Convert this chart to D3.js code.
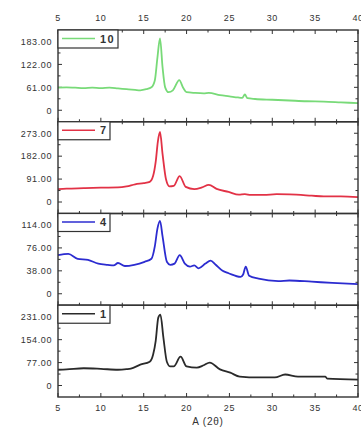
<!DOCTYPE html>
<html>
<head>
<meta charset="utf-8">
<script src="https://cdn.jsdelivr.net/npm/d3@7"></script>
<style>
  body { margin: 0; background: #fff; }
  svg { display: block; }
  text { font-family: "Liberation Sans", Arial, sans-serif; fill: #333; }
</style>
</head>
<body>
<div class="chart"></div>
<script>
// ---- data ----
var sampleNames = ["10", "7", "4", "1"];
var sampleColors = ["#78da78", "#e23246", "#2c2cd0", "#2a2a2a"];
var tickMax = [183, 273, 114, 231];
var xTicks = [5, 10, 15, 20, 25, 30, 35, 40];

var x10 = [5, 6, 7, 8, 9, 10, 11, 12, 13, 14, 14.6, 15.3, 15.9, 16.3, 16.6, 16.9, 17.2, 17.5, 17.9, 18.4, 19.15, 19.6, 20.0, 21.0, 22.0, 22.6, 23.9, 25.0, 26.0, 26.5, 26.8, 27.1, 28, 30, 32, 34, 36, 38, 40];
var y10 = [60, 61, 60, 59, 60, 59, 60, 58, 56, 54, 53, 56, 61, 80, 140, 191, 114, 61, 48, 53, 80, 60, 48, 46, 45, 46, 40, 37, 34, 33, 42, 32, 30, 28, 26, 24, 23, 21, 19];

var x7 = [5, 6, 8, 10, 12, 13, 14, 15, 15.7, 16.1, 16.4, 16.65, 16.9, 17.2, 17.6, 18.0, 18.5, 19.2, 19.9, 20.9, 21.8, 22.6, 23.5, 24.9, 26.1, 26.8, 27.5, 29, 30.5, 32, 34.6, 36, 38, 40];
var y7 = [51, 53, 55, 57, 58, 62, 70, 75, 80, 104, 160, 240, 278, 190, 90, 62, 64, 103, 60, 51, 58, 68, 52, 40, 29, 31, 28, 28, 31, 30, 25, 22, 22, 19];

var x4 = [5, 6.2, 7.3, 8.5, 9.7, 10.8, 11.5, 12.0, 12.8, 13.9, 15.1, 15.9, 16.3, 16.6, 16.9, 17.2, 17.7, 18.1, 18.6, 19.2, 19.8, 20.4, 20.9, 21.4, 22.2, 22.8, 23.4, 24.2, 24.9, 26.3, 26.6, 26.9, 27.3, 28.4, 30.7, 32, 34.6, 37, 40];
var y4 = [64, 66, 58, 56, 50, 48, 47, 51, 46, 48, 53, 58, 79, 108, 121, 95, 53, 48, 50, 64, 50, 45, 47, 42, 50, 55, 48, 38, 34, 28, 32, 45, 30, 25, 21, 22, 20, 18, 16];

var x1 = [5, 6, 8, 10, 12, 13, 13.5, 14.6, 15.7, 16.1, 16.4, 16.7, 16.95, 17.3, 17.7, 18.1, 18.5, 19.3, 20.0, 21.2, 22.0, 22.7, 23.9, 25.1, 26.2, 28.4, 30.3, 31.5, 33, 36.2, 36.4, 40];
var y1 = [53, 54, 58, 56, 53, 55, 57, 70, 80, 104, 150, 228, 238, 160, 80, 64, 64, 97, 64, 60, 68, 77, 54, 43, 30, 27, 27, 37, 30, 30, 23, 20];

var sampleX = [x10, x7, x4, x1];
var sampleY = [y10, y7, y4, y1];

// ---- layout ----
var width = 361, height = 430;
var left = 58, right = 358;
var top0 = 30, panelH = 91.75;
var pad = 11.5;

var svg = d3.select(".chart").append("svg")
    .attr("width", width)
    .attr("height", height);

var x = d3.scaleLinear().domain([5, 40]).range([left, right]);
var minorX = d3.range(5, 40.01, 2.5);

sampleNames.forEach(function(name, i) {
    var top = top0 + i * panelH;
    var bottom = top + panelH;
    var y = d3.scaleLinear().domain([0, tickMax[i]]).range([bottom - pad, top + pad]);
    var g = svg.append("g");

    // y ticks + minor
    var step = tickMax[i] / 3;
    var majors = [0, step, 2 * step, 3 * step];
    var minors = d3.range(0, tickMax[i] + 0.1, step / 2);

    minors.forEach(function(v) {
        var isMajor = Math.abs((v / step) - Math.round(v / step)) < 0.01;
        var len = isMajor ? 4 : 2.5;
        g.append("line").attr("x1", left).attr("x2", left + len)
            .attr("y1", y(v)).attr("y2", y(v))
            .attr("stroke", "#333").attr("stroke-width", 1);
        g.append("line").attr("x1", right).attr("x2", right - len)
            .attr("y1", y(v)).attr("y2", y(v))
            .attr("stroke", "#333").attr("stroke-width", 1);
    });

    majors.forEach(function(v, k) {
        g.append("text")
            .attr("x", 52).attr("y", y(v) + 3.3)
            .attr("text-anchor", "end")
            .attr("font-size", "9px")
            .attr("letter-spacing", "0.6px")
            .text(k === 0 ? "0" : Math.round(v) + ".00");
    });

    // x ticks top and bottom of each panel
    minorX.forEach(function(v) {
        var isMajor = v % 5 === 0;
        var len = isMajor ? 4 : 2.5;
        g.append("line").attr("x1", x(v)).attr("x2", x(v))
            .attr("y1", top).attr("y2", top + len)
            .attr("stroke", "#333").attr("stroke-width", 1);
        g.append("line").attr("x1", x(v)).attr("x2", x(v))
            .attr("y1", bottom).attr("y2", bottom - len)
            .attr("stroke", "#333").attr("stroke-width", 1);
    });

    // data line
    var pts = sampleX[i].map(function(d, k) { return [d, sampleY[i][k]]; });
    var line = d3.line()
        .x(function(d) { return x(d[0]); })
        .y(function(d) { return y(d[1]); })
        .curve(d3.curveMonotoneX);
    g.append("path")
        .attr("d", line(pts))
        .attr("fill", "none")
        .attr("stroke", sampleColors[i])
        .attr("stroke-width", 1.8)
        .attr("stroke-linejoin", "round");

    // frame
    g.append("rect")
        .attr("x", left).attr("y", top)
        .attr("width", right - left).attr("height", panelH)
        .attr("fill", "none")
        .attr("stroke", "#333")
        .attr("stroke-width", 1.4);

    // legend
    var lw = name.length > 1 ? 60 : 52;
    g.append("rect")
        .attr("x", left).attr("y", top)
        .attr("width", lw).attr("height", 18)
        .attr("fill", "#fff")
        .attr("stroke", "#333")
        .attr("stroke-width", 1.2);
    g.append("line")
        .attr("x1", left + 4).attr("x2", left + 37)
        .attr("y1", top + 8.5).attr("y2", top + 8.5)
        .attr("stroke", sampleColors[i]).attr("stroke-width", 1.4);
    g.append("text")
        .attr("x", left + 42).attr("y", top + 12.5)
        .attr("font-size", "11px")
        .attr("font-weight", "bold")
        .attr("letter-spacing", "1.5px")
        .text(name);
});

// top and bottom tick labels
var bottomY = top0 + 4 * panelH;
xTicks.forEach(function(v) {
    svg.append("text").attr("x", x(v)).attr("y", 21)
        .attr("text-anchor", "middle").attr("font-size", "9px")
        .attr("letter-spacing", "0.6px")
        .text(v);
    svg.append("text").attr("x", x(v)).attr("y", bottomY + 14)
        .attr("text-anchor", "middle").attr("font-size", "9px")
        .attr("letter-spacing", "0.6px")
        .text(v);
});

svg.append("text")
    .attr("x", (left + right) / 2).attr("y", bottomY + 28)
    .attr("text-anchor", "middle")
    .attr("font-size", "10px")
    .attr("letter-spacing", "0.8px")
    .text("A (2θ)");
</script>
</body>
</html>
